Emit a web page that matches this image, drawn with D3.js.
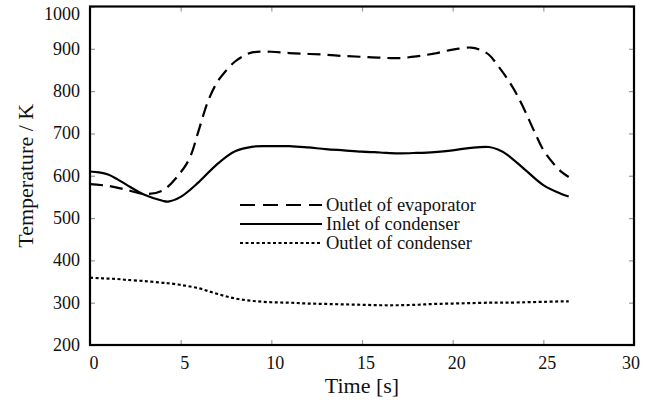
<!DOCTYPE html>
<html>
<head>
<meta charset="utf-8">
<script src="https://cdn.jsdelivr.net/npm/d3@7"></script>
<style>
  body { margin: 0; background: #fff; }
  text { font-family: "Liberation Serif", "Times New Roman", serif; fill: #111; }
</style>
</head>
<body>
<svg id="chart" width="651" height="409"></svg>
<script>
// time axis per series (s)
let tEvap = [0, 1, 2, 3, 4, 5, 5.5, 6, 6.5, 7, 7.5, 8, 8.5, 9, 10, 11, 12, 13, 14, 15, 16, 17, 18, 19, 20, 21, 21.5, 22, 22.5, 23, 23.5, 24, 24.5, 25, 25.5, 26, 26.4];
let evapOut = [580, 576, 567, 557, 565, 608, 642, 708, 775, 820, 848, 870, 884, 892, 893, 890, 888, 886, 883, 881, 879, 878, 882, 889, 898, 903, 898, 886, 860, 830, 795, 752, 705, 661, 632, 609, 597];

let tCond = [0, 0.5, 1, 1.5, 2, 3, 4, 4.3, 5, 6, 7, 8, 9, 10, 11, 12, 13, 14, 15, 16, 17, 18, 19, 20, 21, 22, 22.5, 23, 24, 25, 26, 26.4];
let condIn = [610, 608, 603, 592, 579, 555, 541, 539, 550, 585, 627, 658, 669, 670, 670, 667, 663, 660, 657, 655, 653, 654, 656, 660, 666, 668, 662, 650, 614, 578, 557, 551];
let condOut = [359, 358, 357, 356, 354, 351, 347, 346, 342, 334, 321, 310, 304, 301, 300, 298, 297, 296, 295, 294, 294, 295, 297, 298, 299, 300, 300, 300, 301, 302, 303, 303];

let xTicks = [0, 5, 10, 15, 20, 25, 30];
let yTicks = [200, 300, 400, 500, 600, 700, 800, 900, 1000];
let seriesNames = ["Outlet of evaporator", "Inlet of condenser", "Outlet of condenser"];

let svg = d3.select("#chart");
let plotLeft = 90, plotRight = 634, plotTop = 6.5, plotBottom = 345;

let x = d3.scaleLinear().domain([0, 30]).range([plotLeft, plotRight]);
let y = d3.scaleLinear().domain([200, 1000]).range([plotBottom, plotTop]);

// inner tick marks on all four sides
let tickCol = "#999";
function styleTicks(g) {
    g.select(".domain").remove();
    g.selectAll("line").attr("stroke", tickCol).attr("stroke-width", 1.2);
}
svg.append("g").attr("transform", `translate(0,${plotBottom})`)
    .call(d3.axisTop(x).tickValues(xTicks).tickSize(5).tickFormat(""))
    .call(styleTicks);
svg.append("g").attr("transform", `translate(0,${plotTop})`)
    .call(d3.axisBottom(x).tickValues(xTicks).tickSize(5).tickFormat(""))
    .call(styleTicks);
svg.append("g").attr("transform", `translate(${plotLeft},0)`)
    .call(d3.axisRight(y).tickValues(yTicks).tickSize(5).tickFormat(""))
    .call(styleTicks);
svg.append("g").attr("transform", `translate(${plotRight},0)`)
    .call(d3.axisLeft(y).tickValues(yTicks).tickSize(5).tickFormat(""))
    .call(styleTicks);

// tick labels
svg.append("g").selectAll("text").data(xTicks).join("text")
    .attr("x", d => x(d) + (d === 30 ? -3 : 4))
    .attr("y", 369)
    .attr("text-anchor", "middle")
    .attr("font-size", 18)
    .text(d => d);
svg.append("g").selectAll("text").data(yTicks).join("text")
    .attr("x", 80)
    .attr("y", d => Math.max(y(d) + 6, 20))
    .attr("text-anchor", "end")
    .attr("font-size", 18)
    .text(d => d);

// frame
svg.append("rect")
    .attr("x", plotLeft).attr("y", plotTop)
    .attr("width", plotRight - plotLeft).attr("height", plotBottom - plotTop)
    .attr("fill", "none").attr("stroke", "#000").attr("stroke-width", 2.2);

// axis titles
svg.append("text")
    .attr("x", 362).attr("y", 393)
    .attr("text-anchor", "middle").attr("font-size", 22)
    .text("Time [s]");
svg.append("text")
    .attr("transform", `translate(33,${(plotTop + plotBottom) / 2}) rotate(-90)`)
    .attr("text-anchor", "middle").attr("font-size", 22)
    .text("Temperature / K");

// curves
let line = d3.line()
    .x(d => x(d[0]))
    .y(d => y(d[1]))
    .curve(d3.curveCatmullRom.alpha(0.5));

let styles = [
    {dash: "13,7", w: 2.2},
    {dash: null, w: 2.2},
    {dash: "3,2.5", w: 2.2}
];
let series = [
    d3.zip(tEvap, evapOut),
    d3.zip(tCond, condIn),
    d3.zip(tCond, condOut)
];

series.forEach((s, i) => {
    svg.append("path")
        .datum(s)
        .attr("d", line)
        .attr("fill", "none")
        .attr("stroke", "#000")
        .attr("stroke-width", styles[i].w)
        .attr("stroke-dasharray", styles[i].dash);
});

// legend
let legendY = [205, 224, 243];
seriesNames.forEach((name, i) => {
    svg.append("line")
        .attr("x1", 240).attr("x2", 322)
        .attr("y1", legendY[i]).attr("y2", legendY[i])
        .attr("stroke", "#000")
        .attr("stroke-width", styles[i].w)
        .attr("stroke-dasharray", i === 0 ? "15,8" : styles[i].dash);
    svg.append("text")
        .attr("x", 326).attr("y", legendY[i] + 6)
        .attr("font-size", 18.5)
        .text(name);
});
</script>
</body>
</html>
